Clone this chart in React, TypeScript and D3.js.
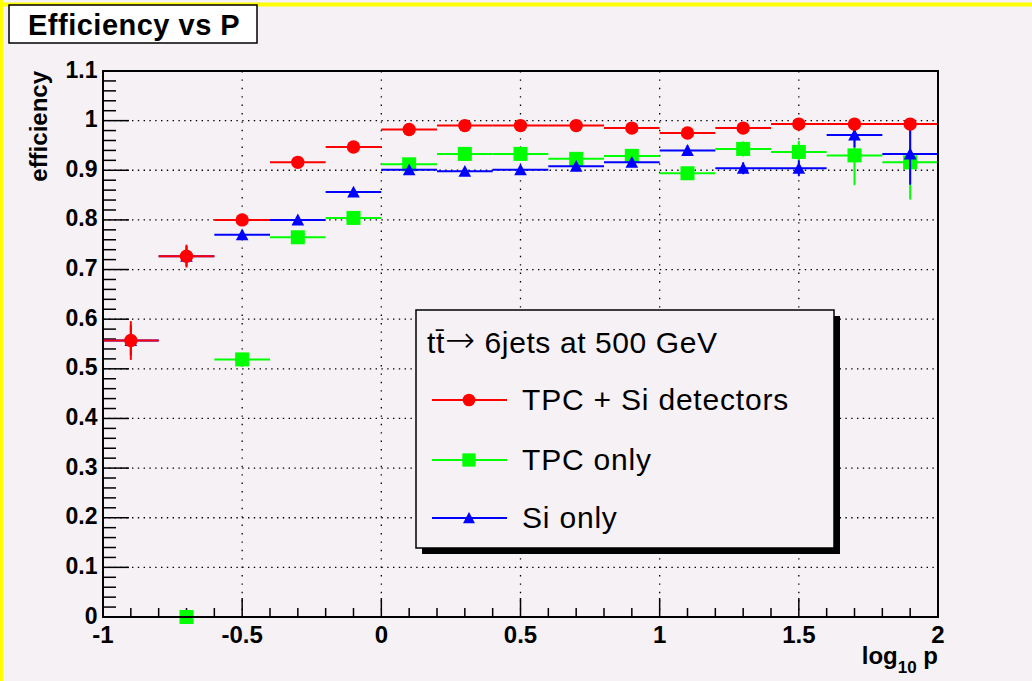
import React from "react";
import * as d3 from "d3";

// bins of log10 p
const binCenters = [-0.9, -0.7, -0.5, -0.3, -0.1, 0.1, 0.3, 0.5, 0.7, 0.9, 1.1, 1.3, 1.5, 1.7, 1.9];
const binHalfWidth = 0.1;

// TPC + Si detectors
const effTpcSi = [0.557, 0.727, 0.8, 0.916, 0.947, 0.982, 0.99, 0.99, 0.99, 0.985, 0.975, 0.985, 0.993, 0.993, 0.993];
const errTpcSi = [0.039, 0.023, 0.008, 0.006, 0.005, 0.004, 0.002, 0.002, 0.003, 0.003, 0.004, 0.004, 0.004, 0.006, 0.008];

// TPC only (first bin empty)
const effTpc = [null, 0.0, 0.519, 0.765, 0.804, 0.912, 0.933, 0.933, 0.923, 0.929, 0.894, 0.943, 0.937, 0.93, 0.916];
const errTpc = [0, 0, 0.01, 0.008, 0.008, 0.006, 0.005, 0.006, 0.007, 0.009, 0.012, 0.015, 0.022, 0.06, 0.075];

// Si only
const effSi = [0.557, 0.727, 0.77, 0.8, 0.856, 0.901, 0.898, 0.901, 0.908, 0.916, 0.94, 0.904, 0.904, 0.971, 0.933];
const errSi = [0.03, 0.02, 0.01, 0.008, 0.007, 0.005, 0.005, 0.006, 0.007, 0.008, 0.01, 0.012, 0.016, 0.025, 0.062];

const yTicks = [0, 0.1, 0.2, 0.3, 0.4, 0.5, 0.6, 0.7, 0.8, 0.9, 1, 1.1];
const yTickLabels = ["0", "0.1", "0.2", "0.3", "0.4", "0.5", "0.6", "0.7", "0.8", "0.9", "1", "1.1"];
const xTicks = [-1, -0.5, 0, 0.5, 1, 1.5, 2];
const xTickLabels = ["-1", "-0.5", "0", "0.5", "1", "1.5", "2"];

const legendTitleA = "t\u0074\u0304";
const legendTitleArrow = "\u2192";
const legendTitleB = " 6jets at 500 GeV";
const seriesNames = ["TPC + Si detectors", "TPC only", "Si only"];

const W = 1032;
const H = 681;
const BG = "#f5f1f5";
const FONT = "'Liberation Sans', Arial, Helvetica, sans-serif";

const x = d3.scaleLinear().domain([-1, 2]).range([103, 938]);
const y = d3.scaleLinear().domain([0, 1.1]).range([617, 71]);

type Marker = "circle" | "square" | "triangle";

function MarkerShape({ type, cx, cy, color, s = 1 }: { type: Marker; cx: number; cy: number; color: string; s?: number }) {
  if (type === "circle") return <circle cx={cx} cy={cy} r={6.7 * s} fill={color} />;
  if (type === "square") {
    const h = 7 * s;
    return <rect x={cx - h} y={cy - h} width={2 * h} height={2 * h} fill={color} />;
  }
  const p = `M${cx},${cy - 6.3 * s}L${cx + 6.3 * s},${cy + 5.5 * s}L${cx - 6.3 * s},${cy + 5.5 * s}Z`;
  return <path d={p} fill={color} />;
}

const series = [
  { name: seriesNames[0], values: effTpcSi, errors: errTpcSi, color: "#ff0000", marker: "circle" as Marker },
  { name: seriesNames[1], values: effTpc, errors: errTpc, color: "#00ff00", marker: "square" as Marker },
  { name: seriesNames[2], values: effSi, errors: errSi, color: "#0000ff", marker: "triangle" as Marker },
];
// drawing order: green, blue, red on top
const drawOrder = [1, 2, 0];

export default function App() {
  const [x0, x1] = x.range();
  const [yb, yt] = y.range();
  const yMinor = d3.range(0, 1.1001, 0.02);
  const xMinor = d3.range(-1, 2.0001, 0.1);

  return (
    <svg
      width={W}
      height={H}
      style={{ position: "absolute", left: 0, top: 0, display: "block", background: BG }}
      fontFamily={FONT}
    >
      <rect x={0} y={0} width={W} height={H} fill={BG} />
      {/* yellow canvas border */}
      <rect x={0} y={2.5} width={W} height={4} fill="#ffff00" />
      <rect x={0} y={0} width={3} height={H} fill="#ffff00" />

      {/* grid */}
      <g stroke="#000" strokeWidth={1.3}>
        {yTicks.filter((t) => t > 0 && t < 1.1).map((t) => (
          <line key={"gy" + t} x1={x0} x2={x1} y1={y(t)} y2={y(t)} strokeDasharray="1.4 4.4" />
        ))}
        {xTicks.filter((t) => t > -1 && t < 2).map((t) => (
          <line key={"gx" + t} x1={x(t)} x2={x(t)} y1={yt} y2={yb} strokeDasharray="1.4 7" />
        ))}
      </g>

      {/* ticks */}
      <g stroke="#000" strokeWidth={1.5}>
        {yMinor.map((t, i) => {
          const major = i % 5 === 0;
          return <line key={"ty" + i} x1={x0} x2={x0 + (major ? 26 : 13)} y1={y(t)} y2={y(t)} />;
        })}
        {xMinor.map((t, i) => {
          const major = i % 5 === 0;
          return <line key={"tx" + i} x1={x(t)} x2={x(t)} y1={yb} y2={yb - (major ? 19 : 9)} />;
        })}
      </g>

      {/* data */}
      {drawOrder.map((si) => {
        const s = series[si];
        return (
          <g key={s.name}>
            {binCenters.map((c, i) => {
              const v = s.values[i];
              if (v === null || v === undefined) return null;
              const e = s.errors[i];
              return (
                <g key={i}>
                  <line x1={x(c - binHalfWidth)} x2={x(c + binHalfWidth)} y1={y(v)} y2={y(v)} stroke={s.color} strokeWidth={2} />
                  <line x1={x(c)} x2={x(c)} y1={y(Math.max(0, v - e))} y2={y(v + e)} stroke={s.color} strokeWidth={2} />
                  <MarkerShape type={s.marker} cx={x(c)} cy={y(v)} color={s.color} />
                </g>
              );
            })}
          </g>
        );
      })}

      {/* frame */}
      <rect x={x0} y={yt} width={x1 - x0} height={yb - yt} fill="none" stroke="#000" strokeWidth={2} />

      {/* y tick labels */}
      <g fontSize={23} fontWeight="bold" textAnchor="end" fill="#000">
        {yTicks.map((t, i) => (
          <text key={"ly" + t} x={97.5} y={y(t) + 6.5}>
            {yTickLabels[i]}
          </text>
        ))}
      </g>
      {/* x tick labels */}
      <g fontSize={24} fontWeight="bold" textAnchor="middle" fill="#000">
        {xTicks.map((t, i) => (
          <text key={"lx" + t} x={x(t)} y={642.5}>
            {xTickLabels[i]}
          </text>
        ))}
      </g>

      {/* axis titles */}
      <text x={x1} y={664} fontSize={24} fontWeight="bold" textAnchor="end">
        <tspan>log</tspan>
        <tspan fontSize={17} dy={9}>10</tspan>
        <tspan dy={-9}> p</tspan>
      </text>
      <text transform={`translate(47,${yt}) rotate(-90)`} fontSize={24} fontWeight="bold" textAnchor="end">
        efficiency
      </text>

      {/* title box */}
      <rect x={9} y={5} width={248} height={38} fill="#ffffff" stroke="#000" strokeWidth={1.5} />
      <text x={28} y={35} fontSize={29} fontWeight="bold" letterSpacing={0.5}>
        Efficiency vs P
      </text>

      {/* legend */}
      <rect x={422} y={316} width={418} height={238} fill="#000" />
      <rect x={416} y={310} width={418} height={238} fill={BG} stroke="#000" strokeWidth={1.5} />
      <text x={427} y={353} fontSize={30} letterSpacing={0.6}>
        <tspan>{legendTitleA}</tspan>
        <tspan fontFamily="'DejaVu Sans', sans-serif" fontSize={36} fontWeight={200} dy={-1}>
          {legendTitleArrow}
        </tspan>
        <tspan dy={1}>{legendTitleB}</tspan>
      </text>
      {series.map((s, i) => {
        const ly = [400, 460, 518][i];
        return (
          <g key={"leg" + i}>
            <line x1={432} x2={507} y1={ly} y2={ly} stroke={s.color} strokeWidth={2} />
            <MarkerShape type={s.marker} cx={469} cy={ly} color={s.color} s={0.95} />
            <text x={522} y={ly + 10} fontSize={30} letterSpacing={0.8}>
              {s.name}
            </text>
          </g>
        );
      })}
    </svg>
  );
}
